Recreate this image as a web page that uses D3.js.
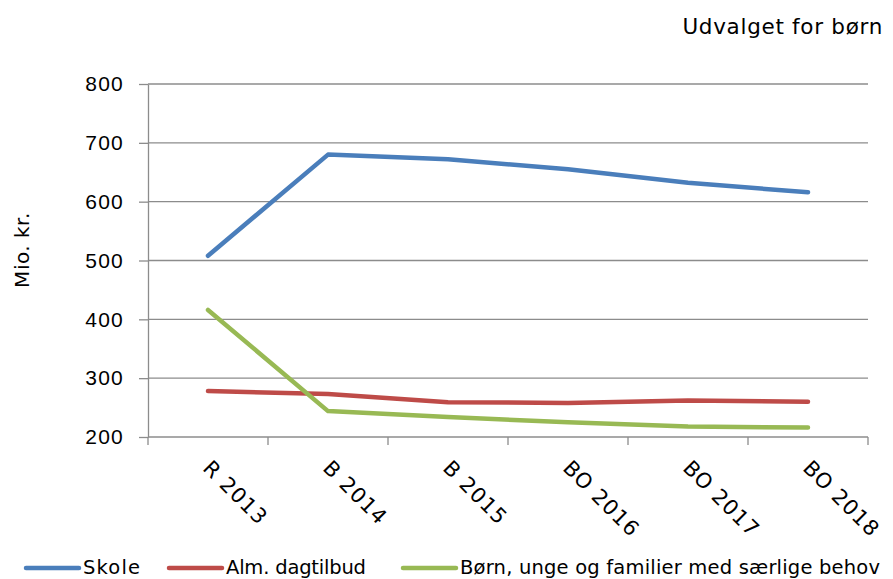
<!DOCTYPE html>
<html lang="da">
<head>
  <meta charset="UTF-8">
  <title>Udvalget for børn</title>
  <script src="https://d3js.org/d3.v7.min.js"></script>
  <style>
    body { margin: 0; background: #fff; }
    svg { display: block; font-family: "DejaVu Sans", Verdana, sans-serif; }
    .grid line { stroke: #8c8c8c; stroke-width: 1.3px; }
    .axis path, .axis line { stroke: #8c8c8c; stroke-width: 1.3px; }
    .axis text { fill: #000; }
    .series { fill: none; stroke-width: 4.5px; stroke-linejoin: round; stroke-linecap: round; }
    .legend text { font-size: 19.5px; }
  </style>
</head>
<body>
  <svg id="chart" width="893" height="579"></svg>
  <script>
    const categories = ["R 2013", "B 2014", "B 2015", "BO 2016", "BO 2017", "BO 2018"];
    const skole = [508, 680, 672, 655, 632, 616];
    const almDagtilbud = [278, 273, 259, 258, 262, 260];
    const boernUnge = [416, 244, 234, 225, 218, 216];
    const seriesNames = ["Skole", "Alm. dagtilbud", "Børn, unge og familier med særlige behov"];
    const seriesColors = ["#4a7ebb", "#be4b48", "#98b954"];
    const yTicks = [200, 300, 400, 500, 600, 700, 800];

    const svg = d3.select("#chart");
    const plotLeft = 148, plotRight = 868, plotTop = 84, plotBottom = 437;

    const x = d3.scaleBand().domain(categories).range([plotLeft, plotRight]);
    const y = d3.scaleLinear().domain([200, 800]).range([plotBottom, plotTop]);

    // gridlines
    svg.append("g").attr("class", "grid")
      .selectAll("line").data(yTicks.slice(1)).enter().append("line")
      .attr("x1", plotLeft).attr("x2", plotRight)
      .attr("y1", d => y(d)).attr("y2", d => y(d));

    // y axis
    const yAxis = svg.append("g").attr("class", "axis")
      .attr("transform", `translate(${plotLeft},0)`)
      .call(d3.axisLeft(y).tickValues(yTicks).tickSize(9).tickPadding(15).tickSizeOuter(0));
    yAxis.selectAll("text").style("font-size", "21px").style("letter-spacing", "1.2px");

    // x axis with ticks at category boundaries
    const xAxis = svg.append("g").attr("class", "axis")
      .attr("transform", `translate(0,${plotBottom})`);
    xAxis.append("line").attr("x1", plotLeft).attr("x2", plotRight).attr("y1", 0).attr("y2", 0);
    const bounds = categories.map(c => x(c)).concat([plotRight]);
    xAxis.selectAll(".xt").data(bounds).enter().append("line")
      .attr("x1", d => d).attr("x2", d => d).attr("y1", 0).attr("y2", 8);
    xAxis.selectAll(".xl").data(categories).enter().append("text")
      .attr("transform", d => `translate(${x(d) + x.bandwidth() / 2 - 1},${27}) rotate(45)`)
      .attr("dy", "0.35em")
      .style("font-size", "21px")
      .style("letter-spacing", "1px")
      .text(d => d);

    // lines
    const line = d3.line()
      .x((d, i) => x(categories[i]) + x.bandwidth() / 2)
      .y(d => y(d));
    [skole, almDagtilbud, boernUnge].forEach((vals, k) => {
      svg.append("path").attr("class", "series")
        .attr("d", line(vals))
        .attr("stroke", seriesColors[k]);
    });

    // title
    svg.append("text").attr("x", 883).attr("y", 34)
      .attr("text-anchor", "end").style("font-size", "21.5px")
      .style("letter-spacing", "0.7px")
      .text("Udvalget for børn");

    // y label
    svg.append("text")
      .attr("transform", `translate(29,250) rotate(-90)`)
      .attr("text-anchor", "middle").style("font-size", "20px")
      .style("letter-spacing", "0.5px")
      .text("Mio. kr.");

    // legend
    const legendX = [26, 169, 403];
    const legendTextWidth = [57, 140, 420];
    const legend = svg.append("g").attr("class", "legend");
    seriesNames.forEach((name, k) => {
      legend.append("line")
        .attr("x1", legendX[k]).attr("x2", legendX[k] + 53)
        .attr("y1", 568).attr("y2", 568)
        .attr("stroke", seriesColors[k]).attr("stroke-width", 4.5)
        .attr("stroke-linecap", "round");
      legend.append("text")
        .attr("x", legendX[k] + 57).attr("y", 574)
        .attr("textLength", legendTextWidth[k])
        .attr("lengthAdjust", "spacing")
        .text(name);
    });
  </script>
</body>
</html>
